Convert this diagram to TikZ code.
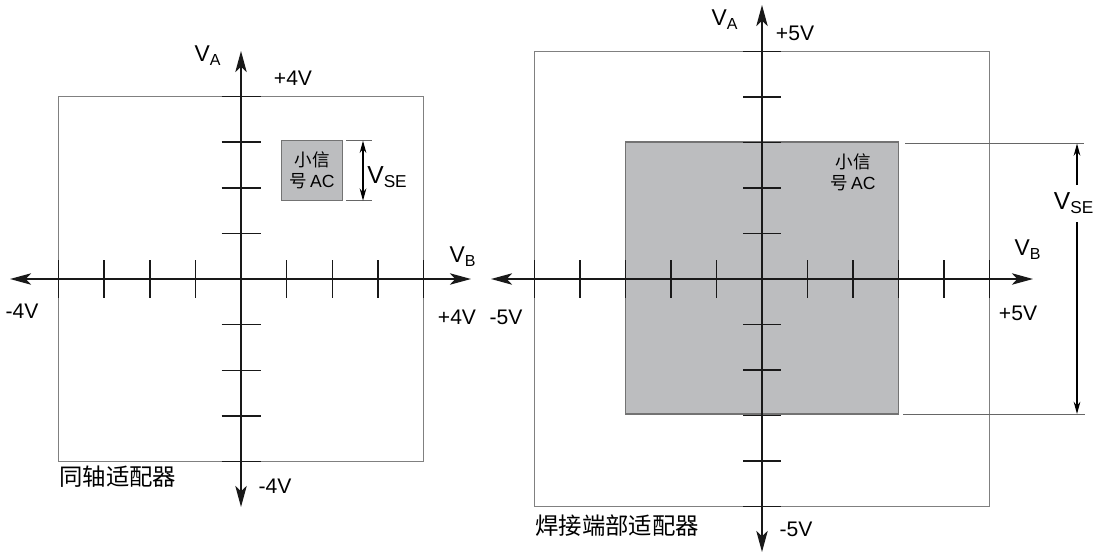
\documentclass[tikz,border=0pt]{standalone}
\usepackage{fontspec}
\setmainfont{Liberation Sans}
\newfontfamily\cjk{Noto Sans CJK SC}
\usetikzlibrary{arrows.meta}
\definecolor{sigfill}{HTML}{BCBDBF}

\begin{document}
\begin{tikzpicture}[
    x=0.02cm, y=-0.02cm,
    axis/.style={line width=1pt, draw=black!90,
      {Stealth[length=12pt,width=6.5pt,inset=3pt]}-{Stealth[length=12pt,width=6.5pt,inset=3pt]}},
    tick/.style={line width=0.8pt, draw=black!90},
    frame/.style={draw=black!50, line width=0.6pt},
    signal/.style={fill=sigfill, draw=black!55, line width=0.6pt},
    dimline/.style={draw=black!60, line width=0.5pt},
    dimarrow/.style={line width=0.7pt, -{Stealth[length=7pt,width=3.8pt]}},
    volt/.style={font=\fontsize{12}{14}\selectfont, inner sep=0pt},
    axlabel/.style={font=\fontsize{13}{15}\selectfont, inner sep=0pt},
    vselabel/.style={font=\fontsize{14}{16}\selectfont, inner sep=0pt},
    boxtext/.style={font=\fontsize{10}{12}\selectfont, align=center, inner sep=0pt},
    title/.style={font=\cjk\fontsize{13.3}{15}\selectfont, anchor=west, inner sep=0pt}
]
  \useasboundingbox (0,0) rectangle (1097,554);

  %--- coax adapter (left) ---
  \draw[frame] (58.6,96.6) rectangle (423.4,461.4);
  \node[signal, minimum width=1.21cm, minimum height=1.2cm, inner sep=0pt] (sigL) at (312,170.7) {};
  \node[boxtext] (sigtxtL) at (312,170) {{\cjk 小信}\\{\cjk 号}\,AC};

  \coordinate (vtL) at (363,140.7);
  \coordinate (vbL) at (363,200.7);
  \draw[dimline] (346,140.7) -- (372,140.7);
  \draw[dimline] (346,200.7) -- (372,200.7);
  \draw[line width=0.7pt, {Stealth[length=7pt,width=3.8pt]}-{Stealth[length=7pt,width=3.8pt]}] (vtL) -- (vbL);
  \node[vselabel, anchor=west] (vseL) at (367,177) {V\textsubscript{SE}};

  \foreach \i in {-4,-3,-2,-1,1,2,3,4} {
    \draw[tick] (241+\i*45.6,260) -- ++(0,38);
    \draw[tick] (221.5,279+\i*45.6) -- ++(39,0);
  }
  \coordinate (LxW) at (10,279);
  \coordinate (LxE) at (471,279);
  \coordinate (LyN) at (241,51);
  \coordinate (LyS) at (241,507);
  \draw[axis] (LxW) -- (LxE);
  \draw[axis] (LyS) -- (LyN);

  \node[axlabel] (vaL)    at (208,56)  {V\textsubscript{A}};
  \node[volt]    (topL)   at (293,78)  {+4V};
  \node[volt]    (leftL)  at (22,311)  {-4V};
  \node[volt]    (rightL) at (457,317) {+4V};
  \node[axlabel] (vbL)    at (463,257) {V\textsubscript{B}};
  \node[volt]    (botL)   at (275,486) {-4V};
  \node[title]   (nameL)  at (59,477)  {同轴适配器};

  %--- solder-in adapter (right) ---
  \draw[frame] (534.5,51.5) rectangle (989.5,506.5);
  \draw[signal] (625.5,142) rectangle (898.5,414);
  \node[boxtext] (sigtxtR) at (853,172) {{\cjk 小信}\\{\cjk 号}\,AC};

  \coordinate (vtR) at (1077,143.5);
  \coordinate (vbR) at (1077,414);
  \coordinate (gtR) at (1077,185);
  \coordinate (gbR) at (1077,222);
  \draw[dimline] (905,143.5) -- (1084,143.5);
  \draw[dimline] (903,414) -- (1085,414);
  \draw[dimarrow] (gtR) -- (vtR);
  \draw[dimarrow] (gbR) -- (vbR);
  \node[vselabel] (vseR) at (1074,203) {V\textsubscript{SE}};

  \foreach \i in {-5,-4,-3,-2,-1,1,2,3,4,5} {
    \draw[tick] (762+\i*45.5,260) -- ++(0,38);
    \draw[tick] (743,279+\i*45.5) -- ++(38,0);
  }
  \coordinate (RxW) at (491,279);
  \coordinate (RxE) at (1033,279);
  \coordinate (RyN) at (762,5);
  \coordinate (RyS) at (762,552);
  \draw[axis] (RxW) -- (RxE);
  \draw[axis] (RyS) -- (RyN);

  \node[axlabel] (vaR)    at (725,20)   {V\textsubscript{A}};
  \node[volt]    (topR)   at (795,33)   {+5V};
  \node[volt]    (leftR)  at (506,317)  {-5V};
  \node[volt]    (rightR) at (1018,313) {+5V};
  \node[axlabel] (vbR)    at (1028,250) {V\textsubscript{B}};
  \node[volt]    (botR)   at (796,529)  {-5V};
  \node[title]   (nameR)  at (535,526)  {焊接端部适配器};
\end{tikzpicture}
\end{document}
